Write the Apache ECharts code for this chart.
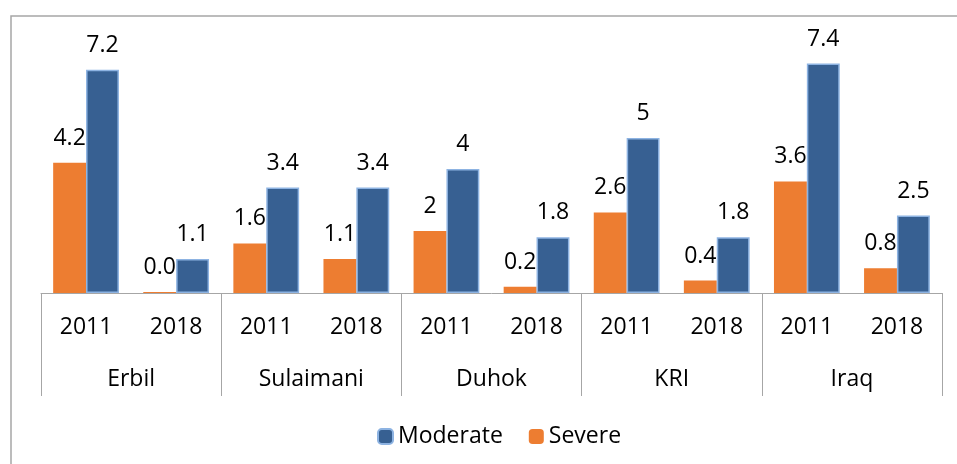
<!DOCTYPE html>
<html>
<head>
<meta charset="utf-8">
<script src="https://cdn.jsdelivr.net/npm/echarts@6/dist/echarts.min.js"></script>
<style>html,body{margin:0;padding:0;background:#fff}#c{width:957px;height:464px}</style>
</head>
<body>
<div id="c"></div>
<script>
var years = ['2011','2018','2011','2018','2011','2018','2011','2018','2011','2018'];
var regions = ['Erbil','Sulaimani','Duhok','KRI','Iraq'];
var severe = [4.2, 0.03, 1.6, 1.1, 2, 0.2, 2.6, 0.4, 3.6, 0.8];
var moderate = [7.2, 1.1, 3.4, 3.4, 4, 1.8, 5, 1.8, 7.4, 2.5];
var severeLabels = ['4.2','0.0','1.6','1.1','2','0.2','2.6','0.4','3.6','0.8'];
var moderateLabels = ['7.2','1.1','3.4','3.4','4','1.8','5','1.8','7.4','2.5'];

var FONT = 'Open Sans';
var FS = 23;
var chart = echarts.init(document.getElementById('c'), null, {renderer:'canvas'});
chart.setOption({
  animation:false,
  textStyle:{fontFamily:FONT},
  graphic:[{type:'rect', shape:{x:11, y:16, width:1000, height:1000}, style:{fill:'none', stroke:'#a6a6a6', lineWidth:1.5}, z:-1}],
  grid:{left:41, right:15, top:45, bottom:171},
  legend:{
    data:['Moderate','Severe'], left:372, top:420, itemWidth:15, itemHeight:15, itemGap:26,
    textStyle:{fontFamily:FONT, fontSize:FS, color:'#000'}
  },
  xAxis:[
    {type:'category', data:years, axisLine:{show:true, lineStyle:{color:'#a6a6a6', width:1}},
     axisTick:{show:false}, axisLabel:{margin:23, fontSize:FS, color:'#000', fontFamily:FONT, interval:0}},
    {type:'category', data:regions, position:'bottom', axisLine:{show:false},
     axisTick:{show:true, length:103, lineStyle:{color:'#a6a6a6', width:1}, interval:0},
     axisLabel:{margin:75, fontSize:FS, color:'#000', fontFamily:FONT, interval:0}}
  ],
  yAxis:{type:'value', min:0, max:8, show:false, splitLine:{show:false}},
  series:[
    {name:'Severe', type:'bar', data:severe, barGap:'0%', barCategoryGap:'27%',
     itemStyle:{color:'#ed7d31'},
     label:{show:true, position:'top', distance:13, fontSize:FS, color:'#000', fontFamily:FONT,
       formatter:function(p){return severeLabels[p.dataIndex];}}},
    {name:'Moderate', type:'bar', data:moderate,
     itemStyle:{color:'#376092', borderColor:'#8db3e2', borderWidth:1.5},
     label:{show:true, position:'top', distance:13, fontSize:FS, color:'#000', fontFamily:FONT,
       formatter:function(p){return moderateLabels[p.dataIndex];}}}
  ]
});
</script>
</body>
</html>
